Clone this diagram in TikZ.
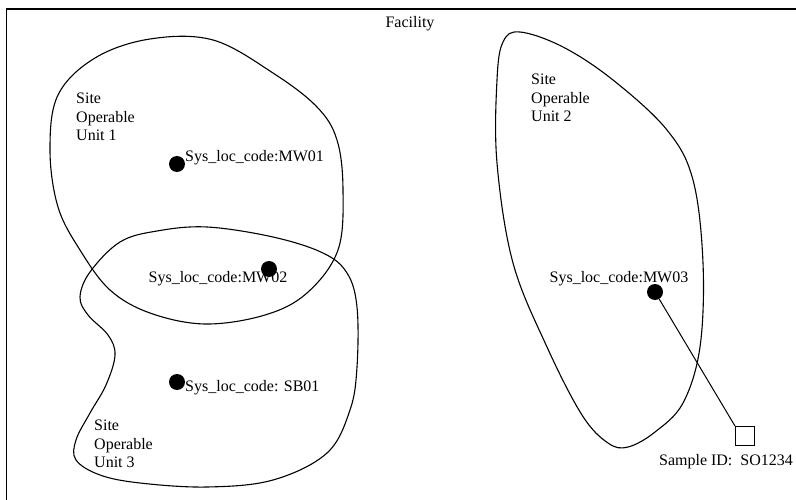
\documentclass[tikz,border=0pt]{standalone}
\usepackage{fontspec}
\setmainfont{Liberation Serif}
\begin{document}
\begin{tikzpicture}[x=1pt,y=-1pt,
  region/.style={draw=black,line width=1.1pt},
  dot/.style={circle,fill=black,inner sep=0pt,minimum size=16pt},
  lbl/.style={font=\fontsize{16}{18.5}\selectfont,inner sep=0pt},
  blk/.style={lbl,align=left,anchor=west},
  sq/.style={draw=black,line width=1pt,minimum size=19pt,inner sep=0pt}]
\useasboundingbox (0,0) rectangle (796,500);
% facility frame (left and top edges)
\coordinate (fbl) at (6.5,500);
\coordinate (ftl) at (6.5,9);
\coordinate (ftr) at (796,9);
\draw[line width=1.3pt] (fbl) -- (ftl) -- (ftr);
\node[lbl] (facility) at (410,24) {Facility};
% Site Operable Unit 1
\draw[region] plot[smooth cycle,tension=0.6] coordinates {
  (150,39) (213,40) (273,73) (317,107) (337,140) (343,190) (338,250)
  (307,293) (265,315) (205,324) (150,313) (110,290) (80,250)
  (58,207) (50,150) (58,95) (95,58)};
% Site Operable Unit 3
\draw[region] plot[smooth cycle,tension=0.6] coordinates {
  (207,227) (273,237) (323,253) (347,273) (357,307) (357,367) (350,410)
  (327,453) (273,480) (207,487) (140,483) (100,475) (76,460) (76,440)
  (90,413) (106,385) (115,355) (108,335) (88,315) (80,297) (90,272) (120,242) (157,231)};
% Site Operable Unit 2
\draw[region] plot[smooth cycle,tension=0.6] coordinates {
  (520,32) (563,47) (613,80) (667,130) (693,180) (703,263) (700,347)
  (683,403) (655,432) (628,447) (608,443) (582,415) (547,347) (513,263) (497,163)
  (497,80) (503,42)};
% labels of units
\node[blk] (ou1) at (76,117) {Site\\Operable\\Unit 1};
\node[blk] (ou2) at (531,98) {Site\\Operable\\Unit 2};
\node[blk] (ou3) at (94,444) {Site\\Operable\\Unit 3};
% locations
\node[dot] (mw01) at (177,164) {};
\node[dot] (mw02) at (269,269) {};
\node[dot] (sb01) at (177,382) {};
\node[dot] (mw03) at (655,292) {};
\node[lbl,anchor=west] (tmw01) at (185,158) {Sys\_loc\_code:MW01};
\node[lbl] (tmw02) at (218,279) {Sys\_loc\_code:MW02};
\node[lbl,anchor=west] (tsb01) at (185,388) {Sys\_loc\_code: SB01};
\node[lbl] (tmw03) at (619,279) {Sys\_loc\_code:MW03};
% sample
\node[sq] (sample) at (745,436) {};
\node[lbl] (tsample) at (726,462) {Sample ID:\ \ SO1234};
\draw[line width=1pt] (mw03) -- (sample.north west);
\end{tikzpicture}
\end{document}
